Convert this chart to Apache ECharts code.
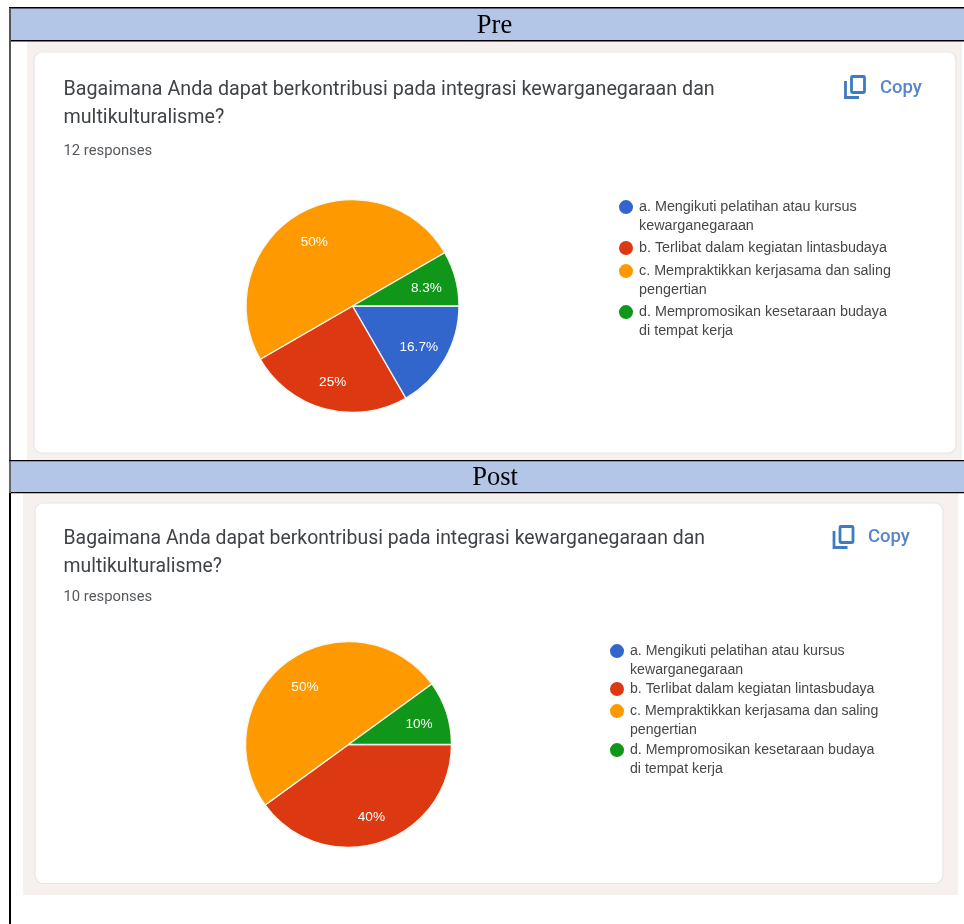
<!DOCTYPE html>
<html><head><meta charset="utf-8">
<style>html,body{margin:0;padding:0;background:#fff}#c{width:964px;height:924px}</style>
<script src="https://cdn.jsdelivr.net/npm/echarts@6/dist/echarts.min.js"></script></head>
<body><div id="c"></div>
<script>
const categories = [
  'a. Mengikuti pelatihan atau kursus\nkewarganegaraan',
  'b. Terlibat dalam kegiatan lintasbudaya',
  'c. Mempraktikkan kerjasama dan saling\npengertian',
  'd. Mempromosikan kesetaraan budaya\ndi tempat kerja'
];
const colors = ['#3366cc', '#dc3912', '#ff9900', '#109618'];
const preValues = [2, 3, 6, 1];
const postValues = [0, 4, 5, 1];
const question = 'Bagaimana Anda dapat berkontribusi pada integrasi kewarganegaraan dan\nmultikulturalisme?';
const preResponses = '12 responses';
const postResponses = '10 responses';

const chart = echarts.init(document.getElementById('c'), null, {renderer: 'canvas'});

const DOT = 14, LH = 19.3;
const twoLineIcon = 'path://M7 0A7 7 0 1 1 7 14A7 7 0 1 1 7 0ZM7 33L7.001 33Z';
function legendsFor(x, rowTops, size) {
  return categories.map((name, i) => {
    const two = name.includes('\n');
    return {
      left: x, top: rowTops[i] - DOT / 2 - 2.7, padding: 0, orient: 'vertical',
      selectedMode: false, data: [name],
      itemWidth: DOT, itemHeight: two ? 33 : DOT,
      icon: two ? twoLineIcon : 'circle',
      itemStyle: {borderWidth: 0},
      textStyle: {fontFamily: 'Liberation Sans', fontSize: size, lineHeight: LH, color: '#45474a', padding: [0, 0, 0, 1]}
    };
  });
}
function pieSeries(values, cx, cy, r) {
  return {
    type: 'pie', center: [cx, cy], radius: [0, r], startAngle: 0, clockwise: true,
    percentPrecision: 1, stillShowZeroSum: false, silent: true, animation: false,
    itemStyle: {borderColor: '#f7f7f2', borderWidth: 1.4},
    labelLine: {show: false},
    label: {position: 'inside', formatter: '{d}%', color: '#fff', fontFamily: 'Liberation Sans', fontSize: 13.6},
    labelLayout: p => {
      const lx = p.labelRect.x + p.labelRect.width / 2, ly = p.labelRect.y + p.labelRect.height / 2;
      return {x: cx + (lx - cx) * 1.36, y: cy + (ly - cy) * 1.36 + 2.5, align: 'center', verticalAlign: 'middle'};
    },
    data: values.map((v, i) => ({
      name: categories[i], value: v,
      itemStyle: {color: colors[i]},
      label: {show: v > 0}
    }))
  };
}
function rect(x, y, w, h, fill, extra) {
  return Object.assign({type: 'rect', shape: {x: 0, y: 0, width: w, height: h}, x, y, style: {fill}, silent: true}, extra || {});
}
function card(x, y, w, h) {
  return {type: 'rect', shape: {x, y, width: w, height: h, r: 8}, style: {fill: '#fff', stroke: '#e8e6e3', lineWidth: 1.2}, silent: true};
}
function copyIcon(x, y, c) {
  return [
    {type: 'rect', shape: {x: x + 7.5, y: y + 1.5, width: 13, height: 16, r: 1}, style: {fill: 'none', stroke: c, lineWidth: 2.8}, silent: true},
    {type: 'polyline', shape: {points: [[x + 1.5, y + 6], [x + 1.5, y + 22.5], [x + 15, y + 22.5]]}, style: {fill: 'none', stroke: c, lineWidth: 2.8}, silent: true}
  ];
}
function label(text, x, y, font, fill, align) {
  return {type: 'text', x, y, style: {text, font, fill, align: align || 'left', verticalAlign: 'middle'}, silent: true};
}
const HEAD = '#b4c6e7', TINT = '#f6f0ee', INK = '#3f4347', BLUE = '#5a84c8', ICON = '#3d7cc4';

chart.setOption({
  animation: false,
  legend: [
    ...legendsFor(619, [207, 248, 271, 312], 14.35),
    ...legendsFor(610, [651, 689, 711, 750], 14.15)
  ],
  series: [pieSeries(preValues, 352.5, 306, 106.5), pieSeries(postValues, 348.5, 744.5, 103)],
  graphic: [
    rect(27, 41, 935, 419, TINT),
    rect(23, 493, 935, 402, TINT),
    card(34, 52, 922, 401),
    card(35, 503, 908, 380.5),
    rect(9, 8, 955, 32.5, HEAD),
    rect(9, 461, 955, 31.5, HEAD),
    rect(9, 7, 955, 1.5, '#000'),
    rect(9, 40, 955, 1.6, '#000'),
    rect(9, 460, 955, 1.2, '#000'),
    rect(9, 492, 955, 1.2, '#000'),
    rect(9, 8, 2, 452, '#555'),
    rect(9, 461, 2, 32, '#666'),
    rect(9, 493, 2, 431, '#000'),
    label('Pre', 494.5, 26.5, '26.5px "Liberation Serif"', '#000', 'center'),
    label('Post', 495, 478.5, '26.5px "Liberation Serif"', '#000', 'center'),
    {type: 'text', x: 63.5, y: 76.2, style: {text: question, font: '19.7px Roboto', fill: INK, lineHeight: 28}, silent: true},
    {type: 'text', x: 63.5, y: 525.8, style: {text: question, font: '19.4px Roboto', fill: INK, lineHeight: 27.5}, silent: true},
    label(preResponses, 63.5, 151, '14.8px Roboto', '#55585c'),
    label(postResponses, 63.5, 597, '14.8px Roboto', '#55585c'),
    ...copyIcon(844, 75, ICON),
    ...copyIcon(832.5, 525, ICON),
    label('Copy', 880, 88, '500 18.5px Roboto', BLUE),
    label('Copy', 868, 537.5, '500 18.5px Roboto', BLUE)
  ]
});
</script></body></html>
